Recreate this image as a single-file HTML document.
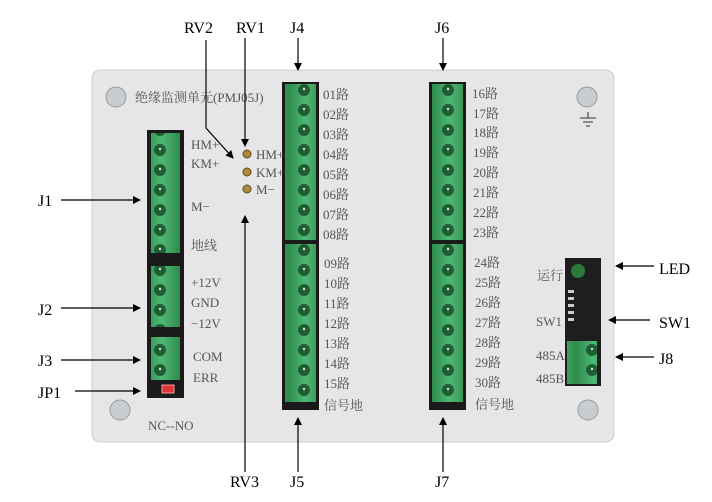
<!DOCTYPE html>
<html><head><meta charset="utf-8"><style>
html,body{margin:0;padding:0;background:#fff;}
svg{display:block;}
text{font-family:"Liberation Serif","Noto Serif CJK SC",serif;}
.l{font-size:16px;fill:#000;}
.p{font-size:13px;fill:#555;}
</style></head><body>
<svg width="712" height="502" viewBox="0 0 712 502" xmlns="http://www.w3.org/2000/svg">
<defs>
<marker id="a" markerWidth="8" markerHeight="8" refX="7" refY="4" orient="auto" markerUnits="userSpaceOnUse"><path d="M0,0 L8,4 L0,8 z" fill="#000"/></marker>
<linearGradient id="g" x1="0" x2="1"><stop offset="0" stop-color="#2f8a4e"/><stop offset="0.5" stop-color="#4fb874"/><stop offset="1" stop-color="#2e8a4c"/></linearGradient>
<pattern id="pins" width="36" height="20" patternUnits="userSpaceOnUse"><rect width="36" height="20" fill="url(#g)"/><circle cx="16" cy="10" r="6" fill="#1f5e35"/><circle cx="16" cy="9" r="1.2" fill="#ddd"/></pattern>
</defs>
<!-- panel -->
<rect x="92" y="70" width="522" height="372" rx="8" fill="#e6e6e8" stroke="#cfcfd2"/>
<!-- screws -->
<g fill="#c8cdd0" stroke="#999"><circle cx="116" cy="97" r="10"/><circle cx="587" cy="97" r="10"/><circle cx="120" cy="410" r="10"/><circle cx="588" cy="410" r="10"/></g>
<g stroke="#555" stroke-width="1.3"><path d="M580 118h16M583 122h10M586 126h4M588 112v6"/></g>
<text x="135" y="102" class="p" font-size="16">绝缘监测单元(PMJ05J)</text>
<!-- left connectors -->
<rect x="147" y="130" width="37" height="268" fill="#1a1a1a"/>
<rect x="151" y="133" width="29" height="120" fill="url(#pins)"/>
<rect x="151" y="266" width="29" height="61" fill="url(#pins)"/>
<rect x="151" y="337" width="29" height="43" fill="url(#pins)"/>
<rect x="162" y="385" width="12" height="8" fill="#d33" stroke="#f99"/>
<!-- J4/J5 -->
<rect x="282" y="82" width="37" height="328" fill="#1a1a1a"/>
<rect x="285" y="84" width="31" height="156" fill="url(#pins)"/>
<rect x="285" y="244" width="31" height="158" fill="url(#pins)"/>
<!-- J6/J7 -->
<rect x="429" y="82" width="37" height="328" fill="#1a1a1a"/>
<rect x="432" y="84" width="31" height="156" fill="url(#pins)"/>
<rect x="432" y="244" width="31" height="158" fill="url(#pins)"/>
<!-- right block -->
<rect x="565" y="258" width="36" height="128" fill="#1e1e1e"/>
<circle cx="578" cy="271" r="7" fill="#2e7a3c"/>
<rect x="567" y="341" width="30" height="43" fill="url(#pins)"/>
<g fill="#ccc"><rect x="568" y="290" width="6" height="3"/><rect x="568" y="297" width="6" height="3"/><rect x="568" y="304" width="6" height="3"/><rect x="568" y="311" width="6" height="3"/><rect x="568" y="318" width="6" height="3"/></g>
<!-- pots -->
<g fill="#b08a3a" stroke="#5a4a20"><circle cx="247" cy="154" r="4"/><circle cx="247" cy="172" r="4"/><circle cx="247" cy="189" r="4"/></g>
<g class="p">
<text x="256" y="159">HM+</text><text x="256" y="177">KM+</text><text x="256" y="194">M−</text>
<text x="191" y="149">HM+</text><text x="191" y="168">KM+</text><text x="191" y="211">M−</text><text x="191" y="250">地线</text>
<text x="191" y="287">+12V</text><text x="191" y="307">GND</text><text x="191" y="328">−12V</text>
<text x="193" y="361">COM</text><text x="193" y="382">ERR</text>
<text x="148" y="430">NC--NO</text>
<text x="323" y="99">01路</text><text x="323" y="119">02路</text><text x="323" y="139">03路</text><text x="323" y="159">04路</text><text x="323" y="179">05路</text><text x="323" y="199">06路</text><text x="323" y="219">07路</text><text x="323" y="239">08路</text>
<text x="324" y="268">09路</text><text x="324" y="288">10路</text><text x="324" y="308">11路</text><text x="324" y="328">12路</text><text x="324" y="348">13路</text><text x="324" y="368">14路</text><text x="324" y="388">15路</text><text x="324" y="410">信号地</text>
<text x="472" y="98">16路</text><text x="473" y="118">17路</text><text x="473" y="137">18路</text><text x="473" y="157">19路</text><text x="473" y="177">20路</text><text x="473" y="197">21路</text><text x="473" y="217">22路</text><text x="473" y="237">23路</text>
<text x="474" y="267">24路</text><text x="475" y="287">25路</text><text x="475" y="307">26路</text><text x="475" y="327">27路</text><text x="475" y="347">28路</text><text x="475" y="367">29路</text><text x="475" y="387">30路</text><text x="475" y="409">信号地</text>
<text x="537" y="280">运行</text><text x="536" y="326">SW1</text><text x="536" y="360">485A</text><text x="536" y="383">485B</text>
</g>
<!-- outside labels -->
<g class="l">
<text x="184" y="33">RV2</text><text x="236" y="33">RV1</text><text x="290" y="33">J4</text><text x="435" y="33">J6</text>
<text x="38" y="206">J1</text><text x="38" y="315">J2</text><text x="38" y="366">J3</text><text x="38" y="398">JP1</text>
<text x="230" y="487">RV3</text><text x="290" y="487">J5</text><text x="435" y="487">J7</text>
<text x="659" y="274">LED</text><text x="659" y="328">SW1</text><text x="659" y="364">J8</text>
</g>
<g stroke="#000" stroke-width="1.2" fill="none">
<path d="M298 38V70" marker-end="url(#a)"/>
<path d="M443 38V70" marker-end="url(#a)"/>
<path d="M245 38V146" marker-end="url(#a)"/>
<path d="M206 40V128L233 158" marker-end="url(#a)"/>
<path d="M245 472V216" marker-end="url(#a)"/>
<path d="M298 472V418" marker-end="url(#a)"/>
<path d="M443 472V418" marker-end="url(#a)"/>
<path d="M61 200H140" marker-end="url(#a)"/>
<path d="M61 308H140" marker-end="url(#a)"/>
<path d="M61 360H140" marker-end="url(#a)"/>
<path d="M75 391H140" marker-end="url(#a)"/>
<path d="M654 266H616" marker-end="url(#a)"/>
<path d="M650 320H609" marker-end="url(#a)"/>
<path d="M654 357H616" marker-end="url(#a)"/>
</g>
</svg>
</body></html>
